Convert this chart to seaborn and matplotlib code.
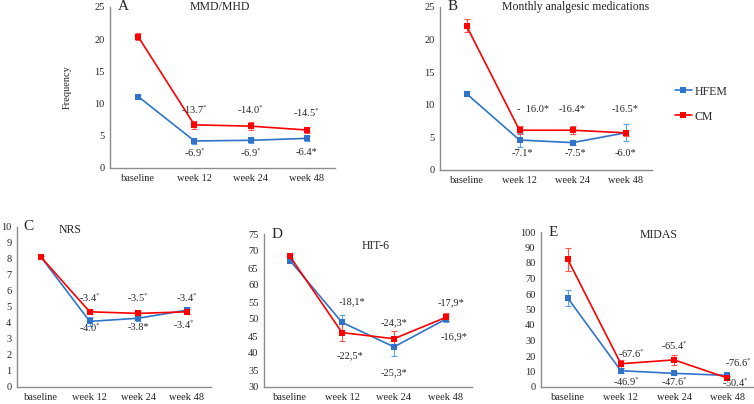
import numpy as np
import pandas as pd
import seaborn as sns
import matplotlib.pyplot as plt

sns.set_style("white")
plt.rcParams['font.family'] = ['Liberation Serif', 'DejaVu Serif']
plt.rcParams['mathtext.fontset'] = 'stix'

weeks = ['baseline', 'week 12', 'week 24', 'week 48']
groups = ['HFEM', 'CM']
colors = {'HFEM': '#2f74c8', 'CM': '#ff0000'}
err_colors = {'HFEM': '#5aa0e6', 'CM': '#ff5050'}

# A: MMD/MHD
a_hfem = [11.1, 4.2, 4.3, 4.6]
a_hfem_err = [0.3, 0.4, 0.4, 0.4]
a_cm = [20.4, 6.7, 6.5, 5.9]
a_cm_err = [0.6, 0.6, 0.6, 0.5]
# B: monthly analgesic medications
b_hfem = [11.7, 4.6, 4.2, 5.7]
b_hfem_err = [0.4, 1.0, 0.3, 1.3]
b_cm = [22.1, 6.1, 6.1, 5.7]
b_cm_err = [1.0, 0.6, 0.6, 0.5]
# C: NRS
c_hfem = [8.1, 4.1, 4.3, 4.8]
c_hfem_err = [0.1, 0.3, 0.2, 0.2]
c_cm = [8.1, 4.7, 4.6, 4.7]
c_cm_err = [0.1, 0.15, 0.15, 0.15]
# D: HIT-6
d_hfem = [67.2, 49.0, 41.8, 50.0]
d_hfem_err = [0.5, 2.2, 2.8, 1.0]
d_cm = [68.4, 46.0, 44.2, 50.5]
d_cm_err = [0.5, 2.5, 2.3, 1.2]
# E: MIDAS
e_hfem = [57.5, 10.5, 8.8, 7.5]
e_hfem_err = [5.0, 1.5, 1.2, 1.0]
e_cm = [82.5, 15.0, 17.5, 5.8]
e_cm_err = [7.5, 2.5, 3.0, 1.0]

S = '$^{*}$'
a_labels = [('-13.7' + S, 1, 9.0), ('-14.0' + S, 2, 9.0), ('-14.5' + S, 3, 8.6),
            ('-6.9' + S, 1, 2.4), ('-6.9' + S, 2, 2.4), ('-6.4*', 3, 2.4)]
b_labels = [('-  16.0*', 1.25, 9.3), ('-16.4*', 2, 9.3), ('-16.5*', 3, 9.3),
            ('-7.1*', 1.05, 2.6), ('-7.5*', 2.05, 2.6), ('-6.0*', 3, 2.6)]
c_labels = [('-3.4' + S, 1, 5.6), ('-3.5' + S, 2, 5.6), ('-3.4' + S, 3, 5.6),
            ('-4.0' + S, 1, 3.7), ('-3.8*', 2, 3.7), ('-3.4' + S, 2.95, 3.9)]
d_labels = [('-18,1*', 1.2, 55.0), ('-22,5*', 1.15, 39.1), ('-24,3*', 2, 48.8),
            ('-25,3*', 2, 34.1), ('-17,9*', 3.1, 54.7), ('-16,9*', 3.15, 44.7)]
e_labels = [('-67.6' + S, 1.2, 21.5), ('-65.4' + S, 2, 26.5), ('-76.6' + S, 3.2, 15.5),
            ('-46.9' + S, 1.1, 3.3), ('-47.6' + S, 2, 3.3), ('-50.4' + S, 3.15, 2.6)]

panels = [
    # letter, title, data, labels, rect, ylim, yticks, title pos
    ('A', 'MMD/MHD', (a_hfem, a_hfem_err, a_cm, a_cm_err), a_labels,
     [110/754, 1-168/404, 225/754, 161/404], (0, 25), np.arange(0, 26, 5), (1.45, 25)),
    ('B', 'Monthly analgesic medications', (b_hfem, b_hfem_err, b_cm, b_cm_err), b_labels,
     [440/754, 1-170/404, 212/754, 163/404], (0, 25), np.arange(0, 26, 5), (2.05, 25)),
    ('C', 'NRS', (c_hfem, c_hfem_err, c_cm, c_cm_err), c_labels,
     [17/754, 1-387/404, 194/754, 160/404], (0, 10), np.arange(0, 11, 1), (0.6, 9.8)),
    ('D', 'HIT-6', (d_hfem, d_hfem_err, d_cm, d_cm_err), d_labels,
     [264/754, 1-387/404, 208/754, 153/404], (30, 75), np.arange(30, 76, 5), (1.65, 71.5)),
    ('E', 'MIDAS', (e_hfem, e_hfem_err, e_cm, e_cm_err), e_labels,
     [541/754, 1-387/404, 213/754, 155/404], (0, 100), np.arange(0, 101, 10), (1.7, 98)),
]

fig = plt.figure(figsize=(7.54, 4.04), dpi=100)

for letter, title, (h, he, c, ce), labels, rect, ylim, yticks, tpos in panels:
    ax = fig.add_axes(rect)
    df = pd.DataFrame({
        'pos': list(range(4)) * 2,
        'value': h + c,
        'group': ['HFEM'] * 4 + ['CM'] * 4,
    })
    for g, vals, errs in [('HFEM', h, he), ('CM', c, ce)]:
        ax.errorbar(range(4), vals, yerr=errs, fmt='none', ecolor=err_colors[g],
                    elinewidth=0.8, capsize=2, capthick=0.8, zorder=2)
    sns.lineplot(data=df, x='pos', y='value', hue='group', hue_order=groups,
                 palette=colors, marker='s', markersize=5, markeredgewidth=0,
                 linewidth=1.2, ax=ax, legend=False, zorder=3)
    ax.set_xlim(-0.5, 3.5)
    ax.set_ylim(*ylim)
    ax.set_yticks(yticks)
    ax.set_xticks(range(4))
    ax.set_xticklabels(weeks)
    ax.tick_params(axis='both', length=0, labelsize=7.5, pad=4)
    ax.set_xlabel('')
    ax.set_ylabel('')
    for side in ['top', 'right']:
        ax.spines[side].set_visible(False)
    for side in ['left', 'bottom']:
        ax.spines[side].set_color('#8c8c8c')
        ax.spines[side].set_linewidth(1.0)
    ax.text(0.035, 1.0, letter, transform=ax.transAxes, fontsize=11,
            ha='left', va='center')
    ax.text(tpos[0], tpos[1], title, fontsize=8.5, ha='center', va='center')
    for txt, x, y in labels:
        ax.text(x, y, txt, fontsize=7.5, ha='center', va='center')
    if letter == 'A':
        ax.set_ylabel('Frequency', fontsize=7.5, labelpad=16)

handles = [plt.Line2D([], [], color=colors[g], marker='s', markersize=4,
                      markeredgewidth=0, linewidth=1.2) for g in groups]
fig.legend(handles, groups, loc='upper left', bbox_to_anchor=(664/754, 1-75/404),
           frameon=False, fontsize=8.5, handlelength=1.5, handletextpad=0.2,
           labelspacing=1.1)

fig.savefig('out.png', dpi=100)
